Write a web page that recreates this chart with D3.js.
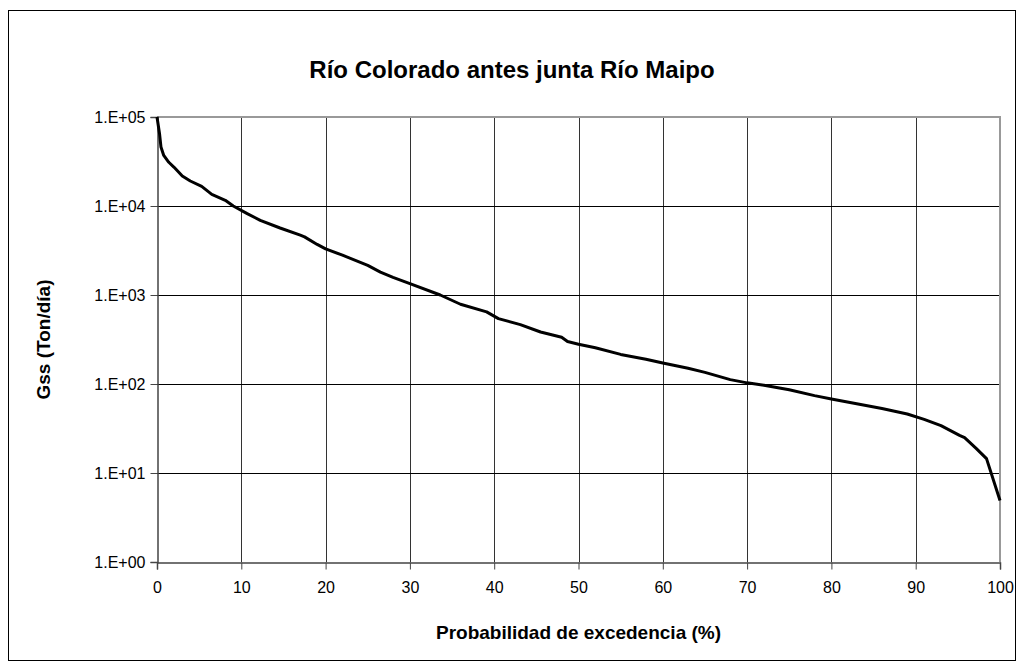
<!DOCTYPE html>
<html>
<head>
<meta charset="utf-8">
<script src="https://cdn.jsdelivr.net/npm/d3@7"></script>
<style>
  body { margin: 0; background: #fff; }
  svg { font-family: "Liberation Sans", Arial, sans-serif; }
</style>
</head>
<body>
<figure id="curve" style="margin:0"></figure>
<script>
const chartTitle = "Río Colorado antes junta Río Maipo";
const xName = "Probabilidad de excedencia (%)";
const yName = "Gss (Ton/día)";

// probabilidad de excedencia (%) and Gss (Ton/día)
const pct = [0, 0.3, 0.47, 0.8, 1.4, 2.0, 3.0, 3.95, 5.3, 6.5, 8.1, 9.05, 10.7, 12.25, 14.6, 17.0, 17.5,
  19, 20, 22, 25, 26.5, 28, 30, 33.6, 36, 39.1, 40.5, 43.1, 45.5, 48, 48.7, 50, 52, 55, 58, 60, 63, 65,
  68, 70, 72, 75, 78, 80, 83, 86, 89, 91, 93, 95.2, 95.8, 97.2, 98.4, 100];
const gss = [100000, 65000, 46000, 37000, 31000, 27400, 21700, 19100, 16600, 13500, 11600, 10000, 8200, 6900, 5660, 4700, 4500,
  3700, 3300, 2800, 2150, 1810, 1580, 1343, 1000, 787, 646, 543, 465, 384, 335, 300, 280, 255, 215, 190, 172, 150, 135,
  112, 103, 97, 86, 74, 68, 60, 53, 46, 40, 34, 26.5, 25, 18.8, 14.5, 4.9];

const xTicks = d3.range(0, 101, 10);
const yTicks = [1, 10, 100, 1000, 10000, 100000];

const width = 1023, height = 668;
const margin = { top: 117, bottom: 106, left: 157, right: 23 };

const svg = d3.select("figure#curve")
  .append("svg")
  .attr("width", width)
  .attr("height", height);

// outer chart frame
svg.append("rect")
  .attr("x", 8.5).attr("y", 10.5)
  .attr("width", 1007).attr("height", 650)
  .attr("fill", "none").attr("stroke", "#000");

const x = d3.scaleLinear()
  .domain([0, 100])
  .range([margin.left, width - margin.right]);

const y = d3.scaleLog()
  .domain([1, 100000])
  .range([height - margin.bottom, margin.top]);

// grid
const grid = svg.append("g").attr("shape-rendering", "crispEdges");
grid.selectAll(".gx")
  .data(xTicks.slice(1, -1))
  .join("line")
  .attr("class", "gx")
  .attr("x1", d => Math.round(x(d)) + 0.5).attr("x2", d => Math.round(x(d)) + 0.5)
  .attr("y1", y(100000)).attr("y2", y(1))
  .attr("stroke", "#333");
grid.selectAll(".gy")
  .data(yTicks.slice(1, -1))
  .join("line")
  .attr("class", "gy")
  .attr("y1", d => Math.round(y(d)) + 0.5).attr("y2", d => Math.round(y(d)) + 0.5)
  .attr("x1", x(0)).attr("x2", x(100))
  .attr("stroke", "#000");

// plot area border top/right
grid.append("path")
  .attr("d", `M${x(0)},${y(100000)}H${x(100)}V${y(1)}`)
  .attr("fill", "none")
  .attr("stroke", "#999")
  .attr("stroke-width", 2);

// axes
const xAxis = svg.append("g")
  .attr("transform", `translate(0,${Math.round(y(1)) + 0.5})`)
  .call(d3.axisBottom(x).tickValues(xTicks).tickSize(7).tickPadding(12).tickFormat(d3.format("d")));
const yAxis = svg.append("g")
  .attr("transform", `translate(${Math.round(x(0)) + 0.5},0)`)
  .call(d3.axisLeft(y).tickValues(yTicks).tickSize(7).tickPadding(5)
    .tickFormat(d => "1.E+" + String(Math.round(Math.log10(d))).padStart(2, "0")));

[xAxis, yAxis].forEach(g => {
  g.select(".domain").attr("stroke", "#444").attr("stroke-width", 1.5);
  g.selectAll(".tick line").attr("stroke", "#444");
  g.selectAll(".tick text").attr("font-size", 16).attr("fill", "#000")
    .attr("font-family", "'Liberation Sans', Arial, sans-serif");
});

// curve
const line = d3.line()
  .x((d, i) => x(pct[i]))
  .y(d => y(d));

svg.append("path")
  .datum(gss)
  .attr("d", line)
  .attr("fill", "none")
  .attr("stroke", "#000")
  .attr("stroke-width", 3)
  .attr("stroke-linejoin", "round");

// titles
svg.append("text")
  .attr("x", 512).attr("y", 78)
  .attr("text-anchor", "middle")
  .attr("font-size", 24).attr("font-weight", "bold")
  .text(chartTitle);

svg.append("text")
  .attr("x", x(50)).attr("y", 639)
  .attr("text-anchor", "middle")
  .attr("font-size", 19).attr("font-weight", "bold")
  .text(xName);

svg.append("text")
  .attr("transform", `translate(50,${(y(1) + y(100000)) / 2}) rotate(-90)`)
  .attr("text-anchor", "middle")
  .attr("font-size", 19).attr("font-weight", "bold")
  .text(yName);
</script>
</body>
</html>
